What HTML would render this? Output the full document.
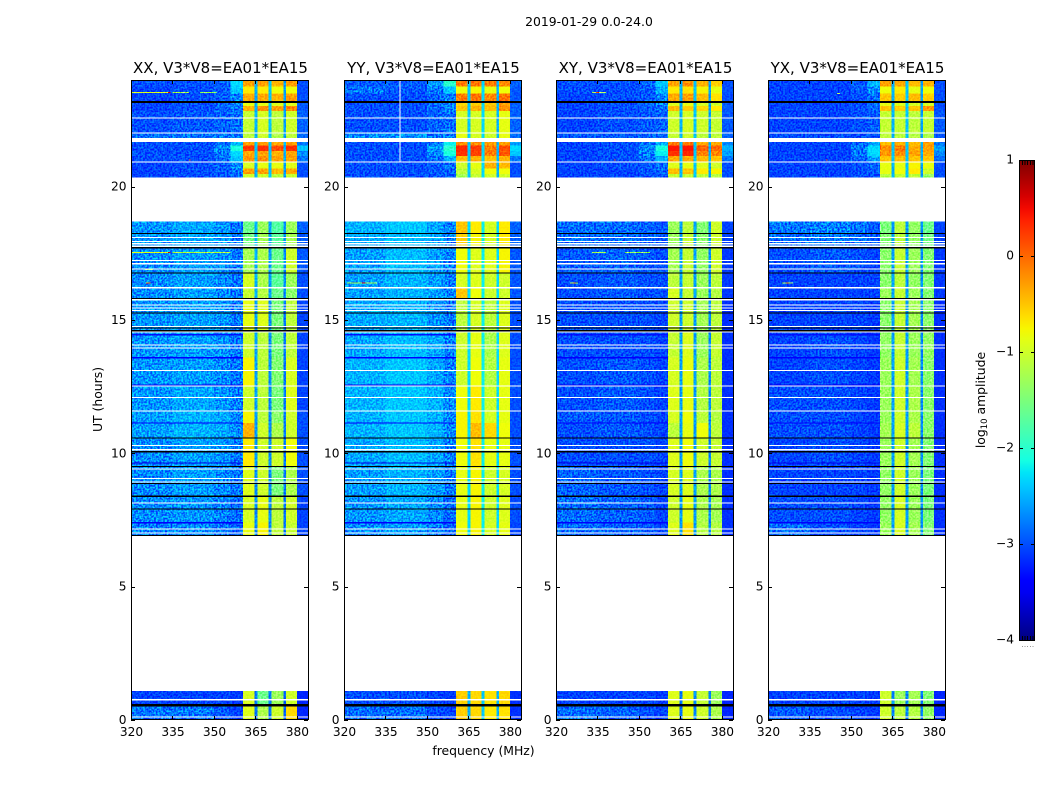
<!DOCTYPE html>
<html>
<head>
<meta charset="utf-8">
<title>2019-01-29 0.0-24.0</title>
<style>
html,body{margin:0;padding:0;background:#fff;width:1050px;height:800px;overflow:hidden}
svg{display:block}
text{font-family:"DejaVu Sans","Liberation Sans",sans-serif;fill:#000}
.tick{font-size:12.2px}
.lab{font-size:12.4px}
.ttl{font-size:15px;text-anchor:middle}
</style>
</head>
<body>
<svg id="fig" xmlns="http://www.w3.org/2000/svg" width="1050" height="800" viewBox="0 0 1050 800">
<defs>
<filter id="speckle" x="0" y="0" width="100%" height="100%" color-interpolation-filters="sRGB">
<feTurbulence type="fractalNoise" baseFrequency="0.55" numOctaves="1" seed="4"/>
<feColorMatrix values="3.0 0 0 0 -1.0  3.0 0 0 0 -1.0  3.0 0 0 0 -1.0  0 0 0 0 1"/>
</filter>
<linearGradient id="cbar-grad" x1="0" y1="1" x2="0" y2="0"></linearGradient>
</defs>
<text x="589" y="26" text-anchor="middle" font-size="12.4px">2019-01-29 0.0-24.0</text>
<g id="panels"></g>
<text class="lab" transform="translate(102 399.5) rotate(-90)" text-anchor="middle">UT (hours)</text>
<text class="lab" x="483.5" y="755" text-anchor="middle">frequency (MHz)</text>
<g id="colorbar"></g>
<text class="lab" transform="translate(985 400) rotate(-90)" text-anchor="middle">log<tspan font-size="8.5px" dy="2">10</tspan><tspan dy="-2"> amplitude</tspan></text>
</svg>
<script>
// ---- axis categories and tick labels ----
const panelTitles = ["XX, V3*V8=EA01*EA15", "YY, V3*V8=EA01*EA15", "XY, V3*V8=EA01*EA15", "YX, V3*V8=EA01*EA15"];
const freqTicks = [320, 335, 350, 365, 380];
const utTicks = [0, 5, 10, 15, 20];
const colorTicks = [1, 0, -1, -2, -3, -4];
const freqRange = [320, 384];
const utRange = [0, 24];
const colorRange = [-4, 1];

// ---- frequency bins (MHz): one value per bin in every row ----
const freqEdges = [320, 335, 350, 356, 360.5, 364.7, 365.7, 369.7, 370.8, 375.2, 376, 380, 384];

// ---- time bins (UT hours): [start, end] of each observed block ----
const utBins = [
[24.00,23.75],[23.75,23.49],[23.49,23.13],[23.13,23.02],[23.02,22.83],[22.83,22.01],[22.01,21.82],
[21.67,21.55],[21.55,21.33],[21.33,21.15],[21.15,20.92],[20.92,20.68],[20.68,20.48],[20.48,20.34],
[18.69,18.24],[18.24,17.71],[17.71,16.76],[16.76,16.21],[16.21,15.76],[15.76,14.55],[14.55,13.59],
[13.59,12.53],[12.53,11.59],[11.59,11.14],[11.14,10.58],[10.58,9.50],[9.50,8.39],[8.39,7.40],[7.40,6.90],
[1.09,0.55],[0.55,0]
];

// ---- log10 amplitude per time bin and frequency bin, one table per polarisation ----
const ampXX = [
[-3.0,-3.0,-2.9,-2.3,-.3,-2.5,-.3,-2.4,-.4,-2.6,-.3,-3.0],
[-3.05,-3.0,-2.95,-2.4,-.7,-2.5,-.7,-2.4,-.8,-2.6,-.8,-3.0],
[-3.05,-3.0,-2.9,-2.75,-.35,-2.5,-.35,-2.4,-.4,-2.6,-.3,-3.0],
[-3.05,-3.0,-2.9,-2.75,-.85,-2.5,-.85,-2.4,-.9,-2.6,-.9,-2.95],
[-3.05,-3.0,-2.9,-2.8,-.4,-2.5,-.2,-2.4,-.3,-2.6,-.15,-2.95],
[-3.0,-2.95,-2.9,-2.85,-1.05,-2.5,-.95,-2.4,-1.1,-2.6,-1.0,-2.9],
[-2.85,-2.8,-2.8,-2.8,-1.1,-2.5,-1.0,-2.4,-1.2,-2.6,-1.1,-2.85],
[-3.0,-3.0,-2.85,-2.5,-.3,-2.4,-.3,-2.4,-.35,-2.5,-.3,-2.8],
[-3.0,-3.0,-2.7,-2.1,.25,-2.4,.3,-2.4,.15,-2.5,.3,-2.4],
[-3.0,-3.0,-2.8,-2.3,-.35,-2.4,-.3,-2.4,-.4,-2.5,-.3,-2.7],
[-3.0,-3.0,-2.85,-2.4,-.25,-2.4,-.2,-2.4,-.3,-2.5,-.3,-2.8],
[-3.05,-3.0,-2.9,-2.7,-.95,-2.5,-.85,-2.4,-.85,-2.6,-.9,-3.0],
[-3.05,-3.0,-2.95,-2.8,-.3,-2.5,-.3,-2.4,-.45,-2.6,-.35,-3.0],
[-3.05,-3.0,-2.95,-2.9,-1.0,-2.5,-1.0,-2.4,-1.1,-2.6,-1.05,-3.0],
[-2.65,-2.55,-2.65,-2.8,-1.6,-2.5,-1.3,-2.6,-1.75,-2.7,-1.3,-2.9],
[-2.65,-2.55,-2.6,-2.8,-1.55,-2.5,-1.25,-2.6,-1.7,-2.7,-1.25,-2.95],
[-2.7,-2.6,-2.65,-2.8,-1.25,-2.5,-1.2,-2.6,-1.6,-2.7,-1.0,-2.95],
[-2.7,-2.6,-2.7,-2.8,-.95,-2.5,-1.2,-2.6,-1.7,-2.7,-1.3,-3.0],
[-2.7,-2.6,-2.7,-2.8,-1.05,-2.5,-1.15,-2.6,-1.6,-2.7,-1.4,-3.0],
[-2.65,-2.6,-2.65,-2.8,-.85,-2.6,-.9,-2.7,-1.5,-2.8,-1.1,-3.05],
[-2.65,-2.6,-2.65,-2.8,-1.0,-2.6,-1.1,-2.7,-1.5,-2.8,-1.1,-3.05],
[-2.65,-2.6,-2.7,-2.8,-.75,-2.6,-1.1,-2.7,-1.45,-2.8,-.95,-3.05],
[-2.65,-2.55,-2.65,-2.75,-1.0,-2.6,-1.1,-2.7,-1.5,-2.8,-.9,-3.05],
[-2.6,-2.5,-2.55,-2.7,-.75,-2.6,-1.1,-2.7,-1.4,-2.8,-1.0,-3.0],
[-2.6,-2.5,-2.55,-2.7,-.4,-2.6,-1.0,-2.7,-1.2,-2.8,-1.0,-3.0],
[-2.7,-2.6,-2.65,-2.8,-.7,-2.6,-1.0,-2.7,-1.0,-2.8,-.8,-3.0],
[-2.7,-2.6,-2.7,-2.8,-.9,-2.7,-1.0,-2.7,-1.5,-2.8,-1.2,-3.0],
[-2.7,-2.65,-2.75,-2.85,-.95,-2.7,-.85,-2.7,-1.1,-2.8,-1.0,-3.05],
[-2.75,-2.7,-2.8,-2.9,-.85,-2.7,-.75,-2.7,-1.1,-2.8,-1.05,-3.05],
[-3.05,-3.05,-3.05,-3.1,-.95,-2.8,-1.6,-2.8,-1.3,-2.9,-1.0,-3.2],
[-2.8,-2.8,-2.95,-3.05,-.9,-2.8,-1.2,-2.8,-1.0,-2.9,-.6,-3.2]
];
const ampYY = [
[-2.95,-2.95,-2.6,-2.0,-.1,-2.4,-.05,-2.3,-.1,-2.5,-.2,-2.9],
[-2.8,-2.95,-2.8,-2.4,-.8,-2.4,-.75,-2.3,-.85,-2.5,-.8,-2.95],
[-3.0,-3.0,-2.9,-2.75,-.1,-2.4,-.05,-2.3,-.15,-2.5,-.05,-2.95],
[-3.0,-3.0,-2.85,-2.7,-.6,-2.4,-.55,-2.3,-.5,-2.5,-.3,-2.9],
[-3.0,-3.0,-2.9,-2.75,-.5,-2.4,-.4,-2.3,-.45,-2.5,-.2,-2.9],
[-3.0,-3.0,-2.9,-2.85,-.95,-2.4,-.95,-2.3,-.95,-2.5,-.85,-2.9],
[-2.7,-2.65,-2.8,-2.8,-.85,-2.4,-.95,-2.3,-1.0,-2.5,-.85,-2.85],
[-3.0,-3.0,-2.8,-2.2,-.2,-2.4,-.2,-2.3,-.3,-2.5,-.3,-2.6],
[-3.0,-3.0,-2.6,-2.0,.35,-2.4,.25,-2.3,-.1,-2.5,.15,-2.3],
[-3.0,-3.0,-2.7,-2.1,.3,-2.4,.2,-2.3,-.1,-2.5,.1,-2.4],
[-3.0,-3.0,-2.85,-2.5,-.45,-2.4,-.4,-2.3,-.5,-2.5,-.4,-2.8],
[-3.0,-3.0,-2.95,-2.85,-1.0,-2.4,-.85,-2.3,-.4,-2.5,-.45,-3.0],
[-3.0,-3.0,-2.95,-2.9,-1.1,-2.4,-.95,-2.3,-.8,-2.5,-.8,-3.0],
[-3.0,-3.0,-2.95,-2.95,-1.25,-2.4,-1.05,-2.3,-1.0,-2.5,-1.0,-3.0],
[-2.5,-2.4,-2.55,-2.75,-.5,-2.3,-.7,-2.2,-.95,-2.3,-.7,-2.9],
[-2.55,-2.45,-2.55,-2.75,-.55,-2.3,-.75,-2.2,-.95,-2.3,-.7,-2.9],
[-2.6,-2.45,-2.6,-2.75,-.8,-2.3,-.9,-2.2,-.9,-2.3,-.75,-2.95],
[-2.6,-2.5,-2.6,-2.75,-.95,-2.3,-.9,-2.2,-1.0,-2.3,-1.0,-2.95],
[-2.6,-2.5,-2.6,-2.75,-.5,-2.3,-.8,-2.2,-1.0,-2.3,-1.0,-2.95],
[-2.55,-2.5,-2.65,-2.8,-1.1,-2.3,-.95,-2.2,-1.1,-2.3,-.9,-3.0],
[-2.55,-2.45,-2.55,-2.75,-1.0,-2.3,-.85,-2.2,-1.2,-2.3,-.9,-3.0],
[-2.5,-2.4,-2.55,-2.75,-1.0,-2.3,-.8,-2.2,-1.15,-2.3,-.85,-3.0],
[-2.5,-2.4,-2.5,-2.7,-.8,-2.3,-.7,-2.2,-1.0,-2.3,-.85,-3.0],
[-2.5,-2.4,-2.5,-2.7,-.75,-2.3,-.65,-2.2,-.95,-2.3,-.85,-3.0],
[-2.5,-2.4,-2.5,-2.7,-.75,-2.3,-.45,-2.2,-.6,-2.3,-.8,-3.0],
[-2.55,-2.45,-2.55,-2.75,-.8,-2.3,-.65,-2.2,-.85,-2.3,-.85,-3.0],
[-2.6,-2.5,-2.6,-2.8,-.85,-2.3,-.75,-2.2,-1.0,-2.3,-.95,-3.0],
[-2.65,-2.55,-2.7,-2.85,-.85,-2.3,-.75,-2.2,-1.0,-2.3,-.9,-3.0],
[-2.7,-2.6,-2.75,-2.9,-.8,-2.3,-.75,-2.2,-.95,-2.3,-.85,-3.05],
[-3.0,-3.0,-3.05,-3.1,-.55,-2.5,-.6,-2.4,-.65,-2.5,-.6,-3.15],
[-2.85,-2.85,-3.0,-3.05,-.55,-2.5,-.6,-2.4,-.7,-2.5,-.65,-3.15]
];
const ampXY = [
[-3.0,-3.0,-2.9,-2.4,-.3,-2.5,-.2,-2.4,-.4,-2.6,-.55,-3.0],
[-3.0,-3.0,-2.95,-2.5,-.7,-2.5,-.65,-2.4,-.75,-2.6,-.85,-3.0],
[-3.05,-3.0,-2.95,-2.75,-.35,-2.5,-.3,-2.4,-.45,-2.6,-.65,-3.0],
[-3.05,-3.0,-2.9,-2.75,-.9,-2.5,-.85,-2.4,-.95,-2.6,-1.0,-2.95],
[-3.05,-3.0,-2.95,-2.85,-.45,-2.5,-.55,-2.4,-.6,-2.6,-.7,-2.95],
[-3.05,-3.0,-2.95,-2.9,-1.0,-2.5,-.95,-2.4,-1.0,-2.6,-1.05,-2.95],
[-2.95,-2.95,-2.9,-2.85,-1.05,-2.5,-1.0,-2.4,-1.1,-2.6,-1.1,-2.9],
[-3.05,-3.0,-2.85,-2.5,-.1,-2.4,-.1,-2.4,-.35,-2.5,-.35,-2.7],
[-3.05,-3.0,-2.7,-2.1,.45,-2.4,.45,-2.4,.05,-2.5,.0,-2.5],
[-3.05,-3.0,-2.75,-2.2,.3,-2.4,.35,-2.4,-.15,-2.5,-.15,-2.6],
[-3.05,-3.0,-2.85,-2.5,-.35,-2.4,-.35,-2.4,-.45,-2.5,-.5,-2.8],
[-3.05,-3.0,-2.95,-2.85,-.9,-2.5,-.85,-2.4,-.9,-2.6,-1.0,-3.0],
[-3.05,-3.05,-2.95,-2.9,-.45,-2.5,-.5,-2.4,-.7,-2.6,-.75,-3.0],
[-3.05,-3.05,-3.0,-2.95,-1.05,-2.5,-1.05,-2.4,-1.1,-2.6,-1.15,-3.0],
[-2.85,-2.85,-2.9,-2.95,-1.3,-2.6,-1.1,-2.6,-1.45,-2.7,-1.0,-3.05],
[-2.85,-2.85,-2.9,-2.95,-1.3,-2.6,-1.05,-2.6,-1.4,-2.7,-1.0,-3.05],
[-2.95,-2.9,-2.95,-3.0,-1.25,-2.6,-1.05,-2.6,-1.35,-2.7,-1.0,-3.1],
[-3.0,-2.95,-3.0,-3.0,-1.1,-2.6,-1.05,-2.6,-1.3,-2.7,-1.1,-3.1],
[-3.0,-2.95,-3.0,-3.0,-.95,-2.6,-1.05,-2.6,-1.3,-2.7,-1.15,-3.1],
[-3.0,-3.0,-3.0,-3.05,-1.0,-2.6,-1.0,-2.6,-1.25,-2.7,-1.1,-3.15],
[-3.0,-3.0,-3.0,-3.05,-1.05,-2.6,-.9,-2.6,-1.3,-2.7,-1.05,-3.15],
[-3.0,-2.95,-3.0,-3.05,-.95,-2.6,-.85,-2.6,-1.2,-2.7,-1.1,-3.15],
[-3.0,-2.95,-3.0,-3.05,-.9,-2.6,-.85,-2.6,-1.15,-2.7,-1.1,-3.15],
[-2.95,-2.95,-3.0,-3.05,-.95,-2.6,-.8,-2.6,-1.1,-2.7,-1.15,-3.15],
[-3.0,-2.95,-3.0,-3.05,-1.1,-2.6,-.85,-2.6,-.8,-2.7,-1.1,-3.15],
[-3.0,-3.0,-3.0,-3.05,-.9,-2.6,-.8,-2.6,-1.0,-2.7,-1.05,-3.15],
[-2.9,-2.95,-3.0,-3.05,-.95,-2.6,-.9,-2.6,-1.2,-2.7,-1.2,-3.15],
[-2.85,-2.9,-2.95,-3.05,-1.0,-2.6,-.85,-2.6,-1.2,-2.7,-1.25,-3.15],
[-2.85,-2.9,-2.95,-3.05,-.9,-2.6,-.65,-2.6,-1.15,-2.7,-1.15,-3.15],
[-3.05,-3.05,-3.05,-3.1,-.9,-2.8,-.85,-2.7,-1.05,-2.8,-1.3,-3.2],
[-2.85,-2.9,-3.0,-3.05,-.9,-2.8,-.85,-2.7,-1.0,-2.8,-1.2,-3.2]
];
const ampYX = [
[-3.05,-3.05,-2.95,-2.5,-.3,-2.5,-.35,-2.4,-.45,-2.6,-.4,-3.0],
[-3.05,-3.05,-2.95,-2.7,-.8,-2.5,-.7,-2.4,-.85,-2.6,-.8,-3.0],
[-3.05,-3.05,-3.0,-2.85,-.5,-2.5,-.55,-2.4,-.45,-2.6,-.55,-3.0],
[-3.05,-3.05,-3.0,-2.85,-.85,-2.5,-.9,-2.4,-.95,-2.6,-.95,-3.0],
[-3.05,-3.05,-3.0,-2.9,-.5,-2.5,-.55,-2.4,-.5,-2.6,-.25,-3.0],
[-3.05,-3.05,-3.0,-2.95,-1.05,-2.5,-1.05,-2.4,-1.1,-2.6,-1.05,-2.95],
[-3.0,-3.0,-3.0,-2.95,-1.1,-2.5,-1.1,-2.4,-1.15,-2.6,-1.2,-2.95],
[-3.05,-3.05,-2.9,-2.6,-.45,-2.4,-.4,-2.4,-.45,-2.5,-.3,-2.8],
[-3.05,-3.05,-2.8,-2.3,-.2,-2.4,-.1,-2.4,-.35,-2.5,-.3,-2.6],
[-3.05,-3.05,-2.8,-2.3,-.25,-2.4,-.2,-2.4,-.3,-2.5,-.35,-2.7],
[-3.05,-3.05,-2.9,-2.6,-.5,-2.4,-.45,-2.4,-.5,-2.5,-.5,-2.85],
[-3.05,-3.05,-3.0,-2.9,-.85,-2.5,-.85,-2.4,-.75,-2.6,-.85,-3.0],
[-3.05,-3.05,-3.0,-2.95,-.85,-2.5,-.8,-2.4,-.7,-2.6,-1.0,-3.0],
[-3.05,-3.05,-3.0,-3.0,-1.15,-2.5,-1.05,-2.4,-1.1,-2.6,-1.35,-3.0],
[-2.8,-2.75,-2.8,-2.95,-1.5,-2.6,-1.1,-2.6,-1.35,-2.7,-1.6,-3.05],
[-2.85,-2.8,-2.85,-2.95,-1.45,-2.6,-1.1,-2.6,-1.35,-2.7,-1.55,-3.05],
[-3.0,-2.95,-3.0,-3.05,-1.4,-2.6,-1.05,-2.6,-1.3,-2.7,-1.45,-3.1],
[-3.05,-3.05,-3.05,-3.05,-1.4,-2.6,-1.1,-2.6,-1.35,-2.7,-1.45,-3.1],
[-3.05,-3.05,-3.05,-3.05,-1.3,-2.6,-1.05,-2.6,-1.3,-2.7,-1.45,-3.1],
[-3.05,-3.05,-3.05,-3.1,-1.4,-2.6,-1.05,-2.6,-1.25,-2.7,-1.4,-3.15],
[-3.05,-3.0,-3.05,-3.1,-1.35,-2.6,-1.05,-2.6,-1.3,-2.7,-1.35,-3.15],
[-3.05,-3.0,-3.05,-3.1,-1.3,-2.6,-1.0,-2.6,-1.25,-2.7,-1.4,-3.15],
[-3.0,-3.0,-3.05,-3.1,-1.3,-2.6,-1.0,-2.6,-1.2,-2.7,-1.4,-3.15],
[-3.0,-3.0,-3.05,-3.1,-1.3,-2.6,-1.0,-2.6,-1.2,-2.7,-1.4,-3.15],
[-3.0,-3.0,-3.05,-3.1,-1.25,-2.6,-.95,-2.6,-1.1,-2.7,-1.4,-3.15],
[-3.05,-3.0,-3.05,-3.1,-1.3,-2.6,-1.0,-2.6,-1.25,-2.7,-1.45,-3.15],
[-3.05,-3.05,-3.05,-3.1,-1.35,-2.6,-1.0,-2.6,-1.3,-2.7,-1.5,-3.15],
[-3.0,-3.0,-3.05,-3.1,-1.35,-2.6,-.95,-2.6,-1.3,-2.7,-1.5,-3.15],
[-2.85,-3.0,-3.05,-3.1,-1.3,-2.6,-.95,-2.6,-1.25,-2.7,-1.45,-3.15],
[-3.05,-3.05,-3.05,-3.1,-1.0,-2.7,-1.3,-2.7,-1.25,-2.8,-1.45,-3.2],
[-2.95,-3.0,-3.05,-3.1,-1.0,-2.7,-1.1,-2.7,-1.15,-2.8,-1.35,-3.2]
];
const panelAmps = [ampXX, ampYY, ampXY, ampYX];

// ---- flagged integrations, common to all polarisations: [UT, duration h] ----
const whiteFlags = [[22.57,.04],[22.01,.04],[20.92,.04],[18.09,.04],[17.95,.04],[17.86,.04],[17.77,.06],[17.23,.04],[17.11,.04],[16.91,.04],[16.21,.07],[15.76,.04],[15.57,.04],[15.45,.04],[15.36,.04],[14.76,.04],[14.55,.04],[14.07,.04],[13.95,.04],[13.10,.04],[12.53,.04],[12.09,.04],[11.59,.04],[10.29,.04],[10.13,.06],[9.42,.04],[9.05,.04],[8.93,.04],[8.13,.04],[7.16,.04],[7.01,.04],[0.76,.04],[0.11,.04]];
const blackFlags = [[23.17,.08],[18.24,.04],[17.71,.06],[16.76,.04],[15.80,.04],[15.26,.04],[14.70,.05],[14.60,.05],[10.58,.04],[10.06,.04],[9.50,.04],[8.87,.04],[8.39,.05],[7.91,.04],[6.92,.05],[0.55,.09]];

// ---- low-amplitude integrations: UT, value, across the continuum channels ----
const dimRowUT = [13.59, 12.57, 11.14, 9.64, 7.40, 14.45];
const dimRowValue = [-3.45, -3.5, -3.45, -3.55, -3.4, -3.3];

// ---- narrow RFI: polarisation index, UT, start MHz, end MHz, value ----
const rfiPanel = [0,0,0,0,0,0,0,0,0,1,1,2,2,2,2,2,2,3,3,3,0,2,3];
const rfiUT =    [23.54,23.54,23.54,23.54,17.54,17.54,17.54,16.39,16.9,16.39,16.39,23.54,23.54,17.54,17.54,16.39,16.39,16.39,16.39,23.5,21.0,21.0,21.0];
const rfiStart = [320,333.3,335,345,320,333.3,335,325.5,325,321,326.5,333,334.5,333,345,325,326,325,326.5,345,341,341,341];
const rfiEnd =   [333.3,334.3,341,351,333.3,334.3,356,327,328,332,327.7,338,335.5,338,354,328,327,329,327.7,346,341.5,341.5,341.5];
const rfiValue = [-.9,.6,-1.2,-1.3,-.85,.7,-1.1,.1,-1.2,-1.2,.5,-1.2,.3,-1.2,-1.3,-1.2,-.3,-1.3,-.4,-1.2,.2,.3,.3];

// ---- flagged channels: polarisation index, MHz, from UT, to UT ----
const chanFlagPanel = [1];
const chanFlagFreq = [340];
const chanFlagFrom = [20.92];
const chanFlagTo = [24];

// ---- layout (not data) ----
const axesLeft = [131, 344, 556, 768];
const axesWidth = 177, axesTop = 80, axesBottom = 720;
const cbarLeft = 1019, cbarRight = 1035, cbarTop = 160, cbarBottom = 640;
const NS = 'http://www.w3.org/2000/svg';

function xScale(p, f) { return axesLeft[p] + (f - freqRange[0]) * axesWidth / (freqRange[1] - freqRange[0]); }
function yScale(ut) { return axesBottom - (ut - utRange[0]) * (axesBottom - axesTop) / (utRange[1] - utRange[0]); }
function cScale(v) { return cbarBottom - (v - colorRange[0]) * (cbarBottom - cbarTop) / (colorRange[1] - colorRange[0]); }

function clamp01(a) { return Math.max(0, Math.min(1, a)); }
function lerpTable(t, tb) {
  for (let i = 1; i < tb.length; i++) {
    if (t <= tb[i][0]) { const a = tb[i-1], b = tb[i]; return a[1] + (b[1]-a[1]) * (t-a[0]) / (b[0]-a[0]); }
  }
  return tb[tb.length-1][1];
}
function jet(v) {
  const t = clamp01((v - colorRange[0]) / (colorRange[1] - colorRange[0]));
  const r = lerpTable(t, [[0,0],[.35,0],[.66,1],[.89,1],[1,.5]]);
  const g = lerpTable(t, [[0,0],[.125,0],[.375,1],[.64,1],[.91,0],[1,0]]);
  const b = lerpTable(t, [[0,.5],[.11,1],[.34,1],[.65,0],[1,0]]);
  return 'rgb(' + Math.round(r*255) + ',' + Math.round(g*255) + ',' + Math.round(b*255) + ')';
}
function rect(parent, x, y, w, h, fill) {
  const el = document.createElementNS(NS, 'rect');
  el.setAttribute('x', x); el.setAttribute('y', y);
  el.setAttribute('width', w); el.setAttribute('height', h);
  el.setAttribute('fill', fill);
  el.setAttribute('shape-rendering', 'crispEdges');
  parent.appendChild(el);
  return el;
}
function label(parent, x, y, str, anchor) {
  const el = document.createElementNS(NS, 'text');
  el.setAttribute('x', x); el.setAttribute('y', y);
  el.setAttribute('class', 'tick');
  el.setAttribute('text-anchor', anchor);
  el.textContent = str;
  parent.appendChild(el);
  return el;
}
function stripeHeight(p, ut, dur) { return Math.max(1, yScale(ut - dur / 2) - yScale(ut + dur / 2)); }

const root = document.getElementById('panels');
panelTitles.forEach(function (title, p) {
  const g = document.createElementNS(NS, 'g');
  
  
  root.appendChild(g);

  const heat = document.createElementNS(NS, 'g');
  
  
  heat.setAttribute('style', 'isolation:isolate');
  g.appendChild(heat);

  const white = rect(heat, axesLeft[p], axesTop, axesWidth, axesBottom - axesTop, '#fff');
  
  

  panelAmps[p].forEach(function (row, r) {
    row.forEach(function (v, c) {
      const x0 = xScale(p, freqEdges[c]), x1 = xScale(p, freqEdges[c + 1]);
      const y0 = yScale(utBins[r][0]), y1 = yScale(utBins[r][1]);
      const cell = rect(heat, x0, y0, x1 - x0, y1 - y0, jet(v));
      
      
    });
  });
  dimRowUT.forEach(function (ut, i) {
    const bar = rect(heat, xScale(p, freqRange[0]), yScale(ut) - .5, xScale(p, freqEdges[4]) - xScale(p, freqRange[0]), 1.2, jet(dimRowValue[i]));
    
    
  });
  rfiUT.forEach(function (ut, i) {
    if (rfiPanel[i] !== p) return;
    const seg = rect(heat, xScale(p, rfiStart[i]), yScale(ut) - .5, Math.max(1, xScale(p, rfiEnd[i]) - xScale(p, rfiStart[i])), 1.2, jet(rfiValue[i]));
    
    
  });

  // instrument speckle texture: neutral grey overlay, leaves white and black flags untouched
  const noiseLow = rect(heat, xScale(p, freqRange[0]), axesTop, xScale(p, freqEdges[4]) - xScale(p, freqRange[0]), axesBottom - axesTop, '#808080');
  
  
  noiseLow.setAttribute('filter', 'url(#speckle)');
  noiseLow.setAttribute('style', 'mix-blend-mode:overlay;opacity:.72');
  const noiseHigh = rect(heat, xScale(p, freqEdges[4]), axesTop, xScale(p, freqRange[1]) - xScale(p, freqEdges[4]), axesBottom - axesTop, '#808080');
  
  
  noiseHigh.setAttribute('filter', 'url(#speckle)');
  noiseHigh.setAttribute('style', 'mix-blend-mode:overlay;opacity:.35');

  whiteFlags.forEach(function (fl) {
    const s = rect(g, axesLeft[p], yScale(fl[0] + fl[1] / 2), axesWidth, stripeHeight(p, fl[0], fl[1]), '#fff');
    
    
  });
  blackFlags.forEach(function (fl) {
    const s = rect(g, axesLeft[p], yScale(fl[0] + fl[1] / 2), axesWidth, stripeHeight(p, fl[0], fl[1]), '#000');
    
    
  });
  chanFlagFreq.forEach(function (f, i) {
    if (chanFlagPanel[i] !== p) return;
    const s = rect(g, xScale(p, f), yScale(chanFlagTo[i]), 1, yScale(chanFlagFrom[i]) - yScale(chanFlagTo[i]), '#fff');
    
    
  });

  freqTicks.forEach(function (f) {
    const x = Math.round(xScale(p, f));
    const b = rect(g, x, axesBottom - 4, 1, 4, '#000');
    
    
    const t = rect(g, x, axesTop, 1, 4, '#000');
    
    
    const l = label(g, xScale(p, f) + .5, 736, String(f), 'middle');
    
    
  });
  utTicks.forEach(function (u) {
    const y = Math.round(yScale(u));
    const a = rect(g, axesLeft[p], y, 4, 1, '#000');
    
    
    const b = rect(g, axesLeft[p] + axesWidth - 4, y, 4, 1, '#000');
    
    
    const l = label(g, axesLeft[p] - 4.5, yScale(u) + 4, String(u), 'end');
    
    
  });

  const frame = document.createElementNS(NS, 'rect');
  frame.setAttribute('x', axesLeft[p] + .5);
  frame.setAttribute('y', axesTop + .5);
  frame.setAttribute('width', axesWidth);
  frame.setAttribute('height', axesBottom - axesTop - 1);
  frame.setAttribute('fill', 'none');
  frame.setAttribute('stroke', '#000');
  frame.setAttribute('stroke-width', '1');
  
  
  g.appendChild(frame);

  const tt = document.createElementNS(NS, 'text');
  tt.setAttribute('x', axesLeft[p] + axesWidth / 2 + 1);
  tt.setAttribute('y', 73);
  tt.setAttribute('class', 'ttl');
  tt.textContent = title;
  
  
  g.appendChild(tt);
});

// colorbar
const grad = document.getElementById('cbar-grad');
for (let i = 0; i <= 40; i++) {
  const stop = document.createElementNS(NS, 'stop');
  stop.setAttribute('offset', (i / 40));
  stop.setAttribute('stop-color', jet(colorRange[0] + (colorRange[1] - colorRange[0]) * i / 40));
  grad.appendChild(stop);
}
const cb = document.getElementById('colorbar');
const cbBody = document.createElementNS(NS, 'rect');
cbBody.setAttribute('x', cbarLeft + .5);
cbBody.setAttribute('y', cbarTop + .5);
cbBody.setAttribute('width', cbarRight - cbarLeft - 1);
cbBody.setAttribute('height', cbarBottom - cbarTop);
cbBody.setAttribute('fill', 'url(#cbar-grad)');
cbBody.setAttribute('stroke', '#000');


cb.appendChild(cbBody);
colorTicks.forEach(function (v) {
  const y = Math.round(cScale(v));
  const a = rect(cb, cbarLeft, y, 4, 1, '#000');
  
  
  const b = rect(cb, cbarRight - 4, y, 4, 1, '#000');
  
  
  const l = label(cb, cbarLeft - 5, cScale(v) + 3.5, String(v).replace('-', '\u2212'), 'end');
  
  
});
[0, 1, 2, 3, 4].forEach(function (i) {
  const x = cbarLeft + 3 + i * 2.6;
  const t = rect(cb, x, cbarTop + 1, 1, 4, '#000');
  
  
  const m = rect(cb, x, cbarBottom - 4, 1, 4, '#000');
  
  
  const d = rect(cb, x, cbarBottom + 6, 1, 1, '#999');
  
  
});
</script>
</body>
</html>
